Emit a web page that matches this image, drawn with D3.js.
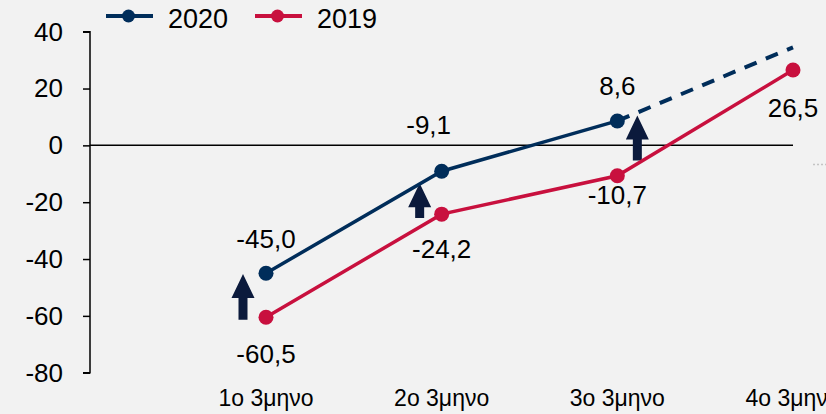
<!DOCTYPE html>
<html>
<head>
<meta charset="utf-8">
<script src="https://cdn.jsdelivr.net/npm/d3@7"></script>
<style>
  html, body { margin: 0; padding: 0; background: #f2f2f2; }
  svg { display: block; font-family: "Liberation Sans", Arial, sans-serif; }
</style>
</head>
<body>
<div id="chart"></div>
<script>
const width = 826;
const height = 414;

// data
const quarters = ["1ο 3μηνο", "2ο 3μηνο", "3ο 3μηνο", "4ο 3μηνο"];
const values2020 = [-45.0, -9.1, 8.6];
const projected2020 = [8.6, 34.5]; // dashed segment 3ο -> 4ο
const values2019 = [-60.5, -24.2, -10.7, 26.5];
const yTicks = [-80, -60, -40, -20, 0, 20, 40];
// change arrows (2019 -> 2020), in value units
const arrowFrom = [-61.4, -25.6, -5.3];
const arrowTo = [-45.3, -13.3, 10.5];

// layout
const xLeft = 266, xRight = 793;
const yTop = 31.7, yBottom = 372.7;
const axisX = 90;
const arrowShift = [-23, -22, 20];
const lab2020dy = [-25, -37, -26];
const lab2020dx = [0, -13, 0];
const lab2019dy = [46, 44, 28, 47];

const navy = "#002d5a";
const red = "#c8103e";
const arrowColor = "#0b1a3c";
const fmt = (v) => v.toFixed(1).replace(".", ",");

const svg = d3.select("#chart").append("svg")
  .attr("width", width)
  .attr("height", height);

svg.append("rect").attr("width", width).attr("height", height).attr("fill", "#f2f2f2");

const x = d3.scalePoint().domain(quarters).range([xLeft, xRight]);
const y = d3.scaleLinear().domain([-80, 40]).range([yBottom, yTop]);

// y axis
const yAxis = svg.append("g")
  .attr("transform", `translate(${axisX},0)`)
  .call(d3.axisLeft(y).tickValues(yTicks).tickSize(7).tickPadding(20).tickFormat((d) => String(d)));
yAxis.select(".domain").attr("stroke", "#000").attr("stroke-width", 1.5).attr("d", `M-7,${y(40)}H0V${y(-80)}H-7`);
yAxis.selectAll(".tick line").attr("stroke", "#000").attr("stroke-width", 1.5);
yAxis.selectAll(".tick text").attr("font-size", 26).attr("fill", "#000")
  .attr("font-family", "Liberation Sans, Arial, sans-serif");

// zero line
svg.append("line")
  .attr("x1", axisX).attr("x2", x(quarters[3]))
  .attr("y1", y(0)).attr("y2", y(0))
  .attr("stroke", "#000").attr("stroke-width", 1.5);

// tiny dotted mark at the right
svg.append("line")
  .attr("x1", 813).attr("x2", 826).attr("y1", 164.5).attr("y2", 164.5)
  .attr("stroke", "#c4c4c4").attr("stroke-width", 1.5).attr("stroke-dasharray", "2,2");

// category labels
svg.append("g").selectAll("text")
  .data(quarters)
  .join("text")
  .attr("x", (d) => x(d))
  .attr("y", 406)
  .attr("text-anchor", "middle")
  .attr("font-size", 23)
  .text((d) => d);

// arrows
const arrowPath = (cx, yb, yt) => {
  const hw = 11.5, sw = 4.5, hh = 24;
  const hb = Math.min(yt + hh, yb - 4);
  return `M${cx - sw},${yb}V${hb}H${cx - hw}L${cx},${yt}L${cx + hw},${hb}H${cx + sw}V${yb}Z`;
};
svg.append("g").selectAll("path")
  .data(arrowFrom)
  .join("path")
  .attr("d", (d, i) => arrowPath(x(quarters[i]) + arrowShift[i], y(d), y(arrowTo[i])))
  .attr("fill", arrowColor);

const line = d3.line().x((d) => x(d[0])).y((d) => y(d[1]));

// 2020 dashed projection
svg.append("path")
  .datum(projected2020.map((v, i) => [quarters[2 + i], v]))
  .attr("d", line)
  .attr("fill", "none")
  .attr("stroke", navy)
  .attr("stroke-width", 4)
  .attr("stroke-dasharray", "13,10");

// lines
const series = [
  { name: "2019", values: values2019, color: red, dy: lab2019dy, dx: [0, 0, 0, 0] },
  { name: "2020", values: values2020, color: navy, dy: lab2020dy, dx: lab2020dx },
];

series.forEach((s) => {
  const pts = s.values.map((v, i) => [quarters[i], v]);
  svg.append("path")
    .datum(pts)
    .attr("d", line)
    .attr("fill", "none")
    .attr("stroke", s.color)
    .attr("stroke-width", 3.5);
  svg.append("g").selectAll("circle")
    .data(pts)
    .join("circle")
    .attr("cx", (d) => x(d[0]))
    .attr("cy", (d) => y(d[1]))
    .attr("r", 7.5)
    .attr("fill", s.color);
  svg.append("g").selectAll("text")
    .data(pts)
    .join("text")
    .attr("x", (d, i) => x(d[0]) + s.dx[i])
    .attr("y", (d, i) => y(d[1]) + s.dy[i])
    .attr("text-anchor", "middle")
    .attr("font-size", 26)
    .text((d) => fmt(d[1]));
});

// legend
const legend = svg.append("g").attr("transform", "translate(106,16)");
[{ name: "2020", color: navy }, { name: "2019", color: red }].forEach((d, i) => {
  const g = legend.append("g").attr("transform", `translate(${i * 149},0)`);
  g.append("line").attr("x1", 0).attr("x2", 47).attr("stroke", d.color).attr("stroke-width", 4);
  g.append("circle").attr("cx", 22.5).attr("r", 6.5).attr("fill", d.color);
  g.append("text").attr("x", 62).attr("y", 12).attr("font-size", 27).text(d.name);
});
</script>
</body>
</html>
